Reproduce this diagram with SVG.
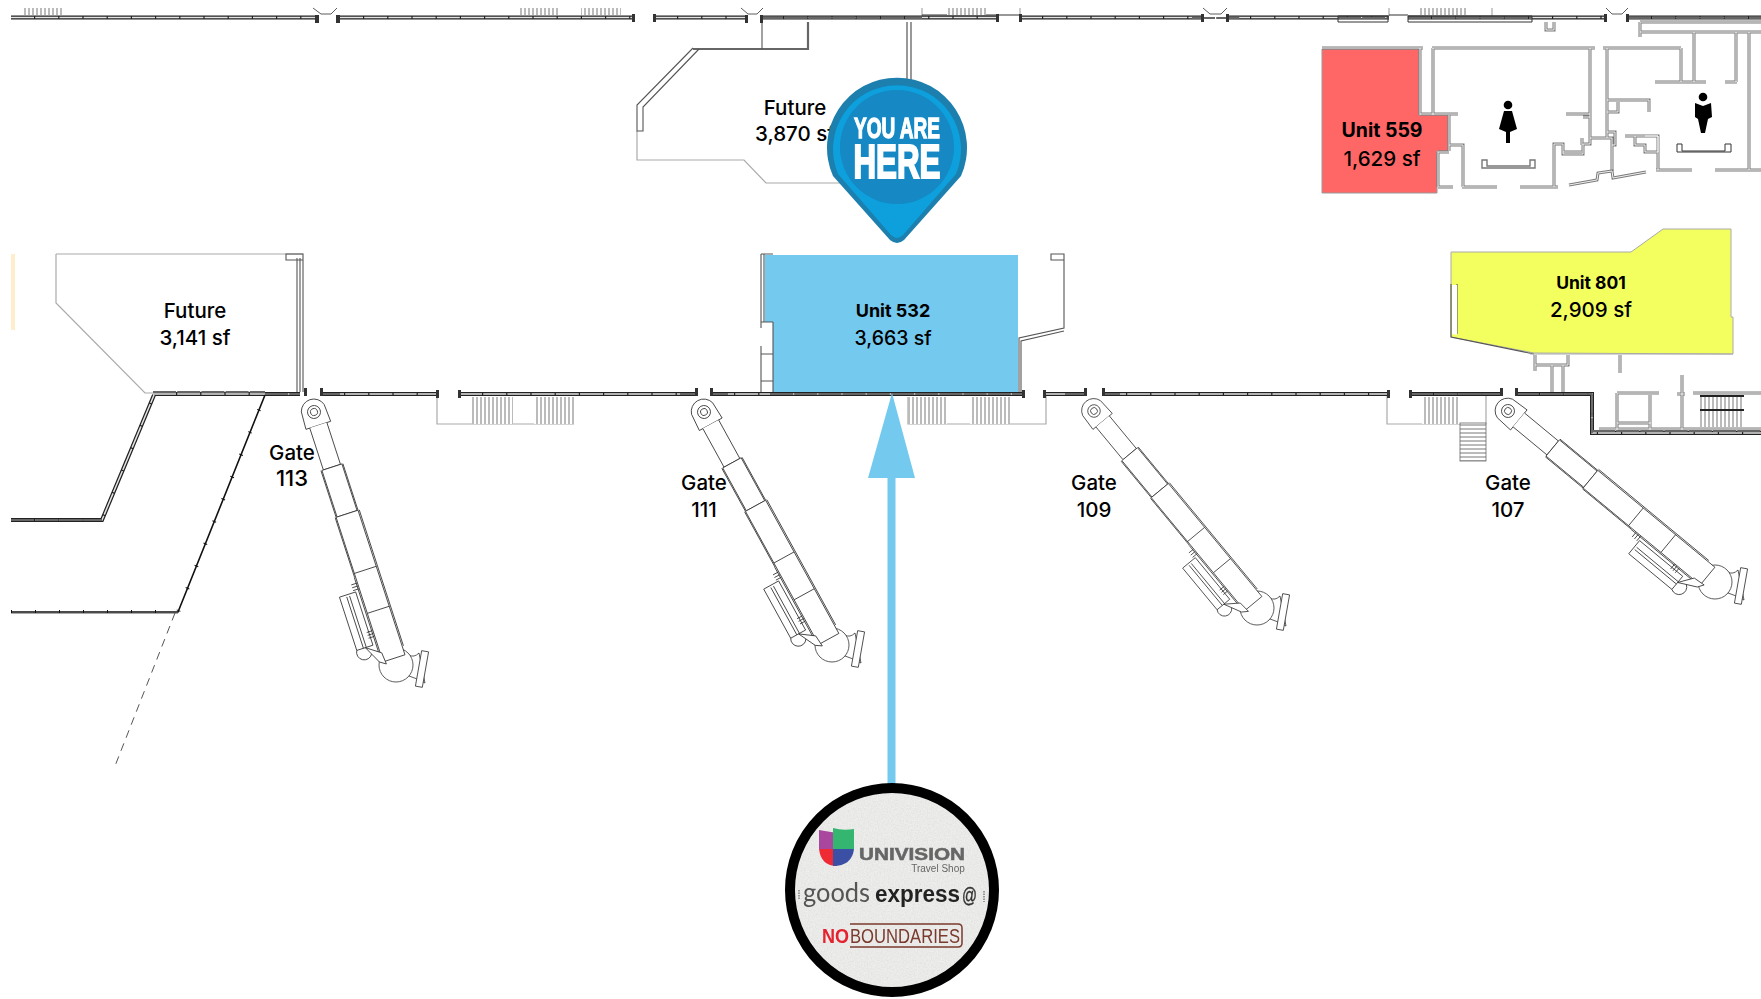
<svg xmlns="http://www.w3.org/2000/svg" width="1761" height="999" viewBox="0 0 1761 999">
<style>
.wo{fill:none;stroke:#222;stroke-width:4}
.wi{fill:none;stroke:#e4e4e4;stroke-width:1.5;stroke-dasharray:23 1.2}
.wd{fill:none;stroke:#666;stroke-width:1.8;stroke-dasharray:23 1.2}
.g{fill:none;stroke:#7a7a7a;stroke-width:3}
.gi{fill:none;stroke:#fff;stroke-width:.9}
.n{fill:none;stroke:#555;stroke-width:1.100}
.t{fill:none;stroke:#aaa;stroke-width:1.2}
.k{fill:none;stroke:#333;stroke-width:1}
.d{fill:#333}
.lab{font-family:"Inter","Liberation Sans",sans-serif;font-size:20.5px;font-weight:500;fill:#000;text-anchor:middle}
.b{font-weight:700}
.br{fill:none;stroke:#333;stroke-width:.8}
.brw{fill:#fff;stroke:#333;stroke-width:.8}
</style>
<defs>
<filter id="soft" x="-5%" y="-5%" width="110%" height="110%"><feGaussianBlur stdDeviation=".45"/></filter>
<filter id="speck" x="0" y="0" width="100%" height="100%"><feTurbulence type="fractalNoise" baseFrequency=".7" numOctaves="2" seed="4"/><feColorMatrix type="matrix" values="0 0 0 0 .95  0 0 0 0 .95  0 0 0 0 .94  .9 0 0 0 -.15"/><feComposite in2="SourceAlpha" operator="in"/><feMerge><feMergeNode in="SourceGraphic"/><feMergeNode/></feMerge></filter>
<pattern id="hv" width="4" height="10" patternUnits="userSpaceOnUse"><rect width="4" height="10" fill="#fff"/><path d="M1 0V10" stroke="#777" stroke-width="1"/></pattern>
<pattern id="hh" width="10" height="4" patternUnits="userSpaceOnUse"><rect width="10" height="4" fill="#fff"/><path d="M0 1H10" stroke="#777" stroke-width="1"/></pattern>
<path id="mainw" d="M11 17.500H317M340 17.500H634M654 17.500H746M760 17.500H998M1019 17.500H1203M1227 17.500H1389M1408 17.500H1606M1628 17.500H1761M153 394H300M321 394H437M459 394H696M711 394H1023M1044 394H1085M1103 394H1388M1410 394H1501M1516 394H1592V433H1761M11 520H102L154 395"/>
<path id="darkw" d="M760 18H922M1192 18H1240M1338 18H1389M1408 18H1532M1628 18H1761M153 392H265M265 394H300M321 394H340M680 394H696M711 394H728M770 394H1023M1065 394H1085M1103 394H1120M1410 394H1501M1516 394H1592M1592 394V433M1592 431H1761M11 520H102"/>
<path id="walls" d="M1322 48H1423M1432 48H1595M1603 48H1681M1420 48V115M1433 48V115M1420 114H1458M1566 114H1590M1590 48V138M1449 115V151M1449 145H1463V187M1438 152H1449M1438 152V187M1438 187H1453M1462 187H1497M1520 187H1558M1554 187V144H1563V154H1583V144H1590V138H1612V171M1563 152H1582M1582 145V138M1583 117H1590M1607 48V138M1607 100H1649V112M1607 112H1618V102M1607 132H1615V145H1612M1645 136H1658M1625 136H1658V152H1645V145H1635V136M1658 136V170M1656 170H1692M1715 170H1761M1681 48V82M1655 82H1706M1694 32V82M1725 82H1737M1736 32V82M1749 32V170M1640 22V37M1640 32H1761M1640 22H1761M1546 22V30H1554V22"/>
<path id="stairs" d="M1569 185L1597 180L1598 173L1612 171L1613 178L1646 172"/>
<path id="lower" d="M1535 355V371M1535 365H1568V355M1552 365V392M1563 365V392M1620 355V373M1682 375V430M1677 394H1685M1617 393H1659M1617 393V430M1650 395V430M1617 423H1651M1693 393H1761M1599 429H1682M1682 429H1761"/>
<g id="bridge">
<path class="brw" d="M-12 -4A12.500 12.500 0 0 1 12 -4L13 14L-13 14Z"/>
<circle class="br" r="6.500"/><circle class="br" r="3.500"/>
<path class="brw" d="M-9 14V58H9V14"/>
<path class="brw" d="M-10.500 58H10.500V107H-10.500Z"/>
<path class="brw" d="M-11.500 107H11.500V259H-11.500Z"/>
<path class="br" d="M-11.500 166H11.500M-11.500 208H11.500M-12.500 107V170M-11.500 58V107M11.500 58V107M12.800 107V250M-12.800 170V255"/>
<path class="brw" d="M-33 184L-16 184L-16 240L-33 240Z"/>
<path class="br" d="M-26 186V240M-23 186V240M-18 176H-12M-18 179H-12M-18 182H-12M-18 226H-12M-18 229H-12M-18 232H-12"/>
<path class="br" d="M-33 240A7.500 7.500 0 0 0 -20 248" stroke="#888"/>
<path class="brw" d="M-24 240L-15 258L-9 262L-10 250Z"/>
</g>
<g id="cab">
<path class="brw" d="M13 -10Q18 -7 23 -12L29 18Q20 13 13 11Z"/>
<circle class="brw" r="17"/>
<rect class="brw" x="22.500" y="-14" width="7" height="36" transform="rotate(10 26 4)"/>
</g>
</defs>
<rect width="1761" height="999" fill="#fff"/>
<g id="plan-fills">
<rect x="11" y="254" width="4" height="76" fill="#ffeecb"/>
<polygon id="unit-559-fill" points="1322,49 1419,49 1419,115 1448,115 1448,151 1437,151 1437,193 1322,193" fill="#ff6666" stroke="#999"/>
<polygon id="unit-801-fill" points="1451,252 1631,252 1663,229 1731,229 1731,317 1733,317 1733,354 1534,353 1451,337" fill="#f3ff5e" stroke="#aaa"/>
<polygon id="unit-532-fill" points="765,255 1018,255 1018,393 773,393 773,322 765,322" fill="#74c9ee"/>
</g>
<g id="plan-walls">
<path class="t" d="M56 254H303M56 254V303L145 393H153M637 131V160H744L766 183H850"/>
<use href="#walls" class="g"/><use href="#walls" class="gi"/>
<path d="M693 49H808V22" fill="none" stroke="#666" stroke-width="2.200"/>
<path class="n" d="M762 22V49M693 48L637 105V131H643V107L699 49M1051 254H1064V260H1051ZM1064 254V328L1019 338V393M1064 331L1021 341V393M761 254V328M764 254V322M773 322V392M761 322H773M761 346V392M761 354H773M761 381H773M761 254H773M297 258V392M300 258V392M303 254V392M286 254H303V260H286Z"/>
<path class="n" d="M1451 284V337L1534 354M1457 284V334"/><path fill="#fff" d="M1452 285H1457V335L1452 334Z"/>
<path class="t" d="M1530 354H1733"/>
<use href="#stairs" class="g"/><use href="#stairs" class="gi"/>
<use href="#lower" class="g"/><use href="#lower" class="gi"/>
<path class="t" d="M437 396V424H574M908 397V424H1046V396M1387 396V424H1486V394M922 8V16M1020 8V16M1389 8V16M1492 8V16"/>
<path class="k" d="M922 15H1020M1389 15H1408"/>
<path d="M907 22V80M911 22V80" fill="none" stroke="#555" stroke-width="1.200"/>
<rect x="22" y="8" width="41" height="7" fill="url(#hv)"/>
<rect x="518" y="8" width="40" height="7" fill="url(#hv)"/><rect x="581" y="8" width="40" height="7" fill="url(#hv)"/>
<rect x="947" y="8" width="39" height="7" fill="url(#hv)"/><rect x="1420" y="8" width="46" height="7" fill="url(#hv)"/>
<rect x="472" y="397" width="41" height="27" fill="url(#hv)"/><rect x="534" y="397" width="40" height="27" fill="url(#hv)"/>
<rect x="908" y="397" width="39" height="27" fill="url(#hv)"/><rect x="970" y="397" width="40" height="27" fill="url(#hv)"/>
<rect x="1422" y="397" width="38" height="27" fill="url(#hv)"/><rect x="1460" y="423" width="26" height="38" fill="url(#hh)" stroke="#666" stroke-width=".8"/>
<rect x="1700" y="397" width="44" height="30" fill="url(#hv)"/>
<path d="M1700 396H1744M1700 410H1744" stroke="#222" stroke-width="2"/>
<use href="#mainw" class="wo"/><use href="#mainw" class="wi"/><use href="#darkw" class="wd"/>
<path d="M11 612H178L265 395" fill="none" stroke="#111" stroke-width="1.600"/>
<path d="M11 612H178L265 395" fill="none" stroke="#111" stroke-width="4" stroke-dasharray="1 23"/>
<path d="M11 613.500H178" fill="none" stroke="#aaa" stroke-width="1"/>
<g class="d"><rect x="315" y="15" width="4" height="8"/><rect x="336" y="15" width="4" height="8"/><rect x="632" y="14" width="3" height="8"/><rect x="653" y="14" width="3" height="8"/><rect x="745" y="15" width="3" height="8"/><rect x="760" y="15" width="3" height="8"/><rect x="996" y="14" width="3" height="8"/><rect x="1019" y="14" width="3" height="8"/><rect x="1201" y="14" width="3" height="8"/><rect x="1226" y="14" width="3" height="8"/><rect x="1604" y="14" width="3" height="8"/><rect x="1626" y="14" width="3" height="8"/><rect x="436" y="390" width="3" height="8"/><rect x="458" y="390" width="3" height="8"/><rect x="695" y="388" width="3" height="8"/><rect x="710" y="388" width="3" height="8"/><rect x="304" y="388" width="3" height="8"/><rect x="320" y="388" width="3" height="8"/><rect x="1022" y="390" width="3" height="8"/><rect x="1043" y="390" width="3" height="8"/><rect x="1084" y="388" width="3" height="8"/><rect x="1102" y="388" width="3" height="8"/><rect x="1387" y="390" width="3" height="8"/><rect x="1409" y="390" width="3" height="8"/><rect x="1500" y="388" width="3" height="8"/><rect x="1515" y="388" width="3" height="8"/></g>
<path class="k" d="M313 8L321 14H331L337 8M741 8L748 14H757L763 8M1203 8L1210 14H1221L1227 8M1606 8L1612 14H1622L1628 8" style="stroke-width:.8"/>
<path stroke="#555" stroke-width="1" stroke-dasharray="8 6" fill="none" d="M175 613L115 766"/>
<path d="M1338 16H1388V22H1338ZM1408 16H1532V22H1408Z" fill="none" stroke="#333"/>
</g>
<g id="jet-bridges">
<use href="#cab" transform="translate(396 665)"/>
<use href="#bridge" transform="translate(314 412) rotate(-18)"/>
<use href="#cab" transform="translate(832 645)"/>
<use href="#bridge" transform="translate(704 412) rotate(-28.800)"/>
<use href="#cab" transform="translate(1257 608)"/>
<use href="#bridge" transform="translate(1094 411) rotate(-39.600) scale(.965)"/>
<use href="#cab" transform="translate(1715 582)"/>
<use href="#bridge" transform="translate(1508 411) rotate(-50.400)"/>
</g>
<g id="restroom-women">
<circle cx="1508" cy="105" r="4.300"/>
<path d="M1504 111H1512L1517 129L1510 132L1510 143H1506L1506 132L1499 129Z"/>
<path class="n" d="M1482 160H1487V166H1530V160H1535V168H1482Z" style="stroke:#777;stroke-width:1.400"/>
</g>
<g id="restroom-men">
<circle cx="1703" cy="97" r="4.300"/>
<path d="M1695 103L1703 106L1711 103L1712 117L1708 119L1705 133H1701L1698 119L1695 117Z"/>
<path class="k" d="M1677 144H1682V151H1725V144H1731V152H1677Z"/>
</g>
<g id="label-future-upper"><text class="lab" x="795" y="115">Future</text><text class="lab" x="795" y="141">3,870 sf</text></g>
<g id="label-future-lower"><text class="lab" x="195" y="318">Future</text><text class="lab" x="195" y="345">3,141 sf</text></g>
<g id="unit-532"><text class="lab b" x="893" y="317" style="font-size:18px">Unit 532</text><text class="lab" x="893" y="345" style="font-size:19.500px">3,663 sf</text></g>
<g id="unit-559"><text class="lab b" x="1382" y="137" style="font-size:19.500px">Unit 559</text><text class="lab" x="1382" y="166">1,629 sf</text></g>
<g id="unit-801"><text class="lab b" x="1591" y="289" style="font-size:17.500px">Unit 801</text><text class="lab" x="1591" y="317">2,909 sf</text></g>
<g id="gate-113"><text class="lab" x="292" y="460">Gate</text><text class="lab" x="292" y="486" style="font-size:22px">113</text></g>
<g id="gate-111"><text class="lab" x="704" y="490">Gate</text><text class="lab" x="704" y="517">111</text></g>
<g id="gate-109"><text class="lab" x="1094" y="490">Gate</text><text class="lab" x="1094" y="517">109</text></g>
<g id="gate-107"><text class="lab" x="1508" y="490">Gate</text><text class="lab" x="1508" y="517">107</text></g>
<g id="connectors">
<path d="M892 393L868 478H887.500V790H895.500V478H915Z" fill="#74c9ee"/>
</g>
<g id="you-are-here" filter="url(#soft)">
<path d="M890 240L833 176A70 70 0 1 1 961 176L904 240Q897 246 890 240Z" fill="#1b7fae"/>
<path d="M891 235L838 174A64 64 0 1 1 956 174L903 235Q897 241 891 235Z" fill="#0ba0dc"/>
<circle cx="897" cy="147" r="57" fill="#1488c4"/>
<text x="897" y="138" font-family="Liberation Sans,sans-serif" font-weight="700" font-size="29" fill="#fff" stroke="#fff" stroke-width="1.300" text-anchor="middle" textLength="86" lengthAdjust="spacingAndGlyphs">YOU ARE</text>
<text x="897" y="178" font-family="Liberation Sans,sans-serif" font-weight="700" font-size="49" fill="#fff" stroke="#fff" stroke-width="2.200" text-anchor="middle" textLength="87" lengthAdjust="spacingAndGlyphs">HERE</text>
</g>
<g id="tenant-badge">
<circle cx="892" cy="890" r="102" fill="#e2e2e0" filter="url(#speck)"/>
<circle cx="892" cy="890" r="102" fill="none" stroke="#000" stroke-width="10"/>
<g filter="url(#soft)">
<path d="M819 830L837 833V849H819Z" fill="#a9479e"/>
<path d="M833 828Q843 831 854 829V849H833Z" fill="#35b66f"/>
<path d="M819 849H837V866Q821 866 819 849Z" fill="#ee2a36"/>
<path d="M833 849H854Q852 866 833 866Z" fill="#3a50a4"/>
<text x="859" y="860" font-family="Liberation Sans,sans-serif" font-weight="700" font-size="17" fill="#666" stroke="#666" stroke-width=".5" textLength="106" lengthAdjust="spacingAndGlyphs">UNIVISION</text>
<text x="938" y="872" font-family="Liberation Sans,sans-serif" font-size="10" fill="#666" text-anchor="middle">Travel Shop</text>
<text x="803" y="902" font-family="Lato,Liberation Sans,sans-serif" font-size="26" fill="#555" textLength="67" lengthAdjust="spacingAndGlyphs">goods</text>
<text x="875" y="902" font-family="Liberation Sans,sans-serif" font-weight="700" font-size="23" fill="#222" textLength="85" lengthAdjust="spacingAndGlyphs">express</text>
<text x="962" y="902" font-family="Liberation Sans,sans-serif" font-size="20" fill="#333" stroke="#333" stroke-width=".4" textLength="15" lengthAdjust="spacingAndGlyphs">@</text>
<path d="M799 890V899M984 891V902" stroke="#999" stroke-width="2" stroke-dasharray="1.500 1"/>
<text x="822" y="943" font-family="Liberation Sans,sans-serif" font-weight="700" font-size="20" fill="#e5202e" textLength="27" lengthAdjust="spacingAndGlyphs">NO</text>
<text x="850" y="943" font-family="Liberation Sans,sans-serif" font-size="20" fill="#7a3b2e" textLength="110" lengthAdjust="spacingAndGlyphs">BOUNDARIES</text>
<path d="M850 924H958Q962 924 962 928V943Q962 947 958 947H850" fill="none" stroke="#7a3b2e" stroke-width="1.500"/>
</g>
</g>
</svg>
